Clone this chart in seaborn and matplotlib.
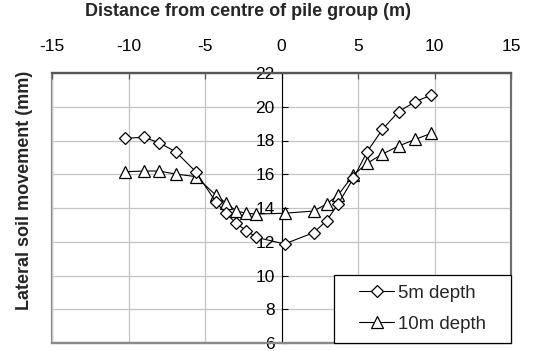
import matplotlib
matplotlib.use("Agg")
import matplotlib.pyplot as plt
from matplotlib.patches import Rectangle
import seaborn as sns
import pandas as pd

# Measured lateral soil movement along the section through the pile group
distance = [-10.25, -9.0, -8.0, -6.9, -5.6, -4.3, -3.65, -2.95, -2.3, -1.65,
            0.2, 2.1, 2.95, 3.7, 4.7, 5.6, 6.6, 7.65, 8.75, 9.8]
depth_5m = [18.13, 18.19, 17.87, 17.32, 16.15, 14.37, 13.69, 13.09, 12.65, 12.26,
            11.87, 12.54, 13.25, 14.24, 15.76, 17.34, 18.66, 19.71, 20.30, 20.70]
depth_10m = [16.15, 16.19, 16.19, 16.01, 15.86, 14.77, 14.31, 13.82, 13.69, 13.64,
             13.69, 13.82, 14.24, 14.77, 15.96, 16.65, 17.20, 17.67, 18.07, 18.43]
series_labels = ["5m depth", "10m depth"]
x_ticks = [-15, -10, -5, 0, 5, 10, 15]
y_ticks = [6, 8, 10, 12, 14, 16, 18, 20, 22]

sns.set_theme(style="white")
plt.rcParams["font.family"] = ["Liberation Sans", "DejaVu Sans"]

fig = plt.figure(figsize=(5.33, 3.51), dpi=100)
ax = fig.add_axes([52 / 533, 1 - 343 / 351, 459 / 533, 270 / 351])

df = pd.DataFrame({"distance": distance, "d5": depth_5m, "d10": depth_10m})

sns.lineplot(data=df, x="distance", y="d5", ax=ax, color="black", lw=0.8,
             marker="D", markersize=6.2, markerfacecolor="white",
             markeredgecolor="black", markeredgewidth=0.9, sort=False,
             zorder=4)
sns.lineplot(data=df, x="distance", y="d10", ax=ax, color="black", lw=0.8,
             marker="^", markersize=8.5, markerfacecolor="white",
             markeredgecolor="black", markeredgewidth=0.9, sort=False,
             zorder=3)

ax.set_xlim(-15, 15)
ax.set_ylim(6, 22)
ax.set_xticks(x_ticks)
ax.set_yticks(y_ticks)
ax.set_xticklabels([str(v) for v in x_ticks])
ax.set_yticklabels([str(v) for v in y_ticks])

ax.grid(True, color="#c4c4c4", lw=0.9)
ax.set_axisbelow(True)

# x axis along the top, y axis through the centre of the group
ax.xaxis.tick_top()
ax.xaxis.set_label_position("top")
ax.spines["left"].set_position(("data", 0))
ax.spines["left"].set_color("black")
ax.spines["left"].set_linewidth(0.8)
ax.spines["left"].set_zorder(2.5)
ax.spines["top"].set_color("#555555")
ax.spines["top"].set_linewidth(1.6)
ax.spines["bottom"].set_color("#8a8a8a")
ax.spines["bottom"].set_linewidth(1.6)
ax.spines["right"].set_color("#6a6a6a")
ax.spines["right"].set_linewidth(1.2)
ax.patch.set_edgecolor("#8a8a8a")
ax.patch.set_linewidth(1.6)

ax.tick_params(axis="x", which="both", top=True, bottom=False, direction="in",
               length=4, width=0.9, color="#555555", pad=14, labelsize=12.5,
               labelcolor="black")
ax.tick_params(axis="y", which="both", left=True, direction="in", length=4,
               width=0.8, color="black", pad=5, labelsize=12.5,
               labelcolor="black")

ax.set_xlabel("Distance from centre of pile group (m)", fontsize=13,
              fontweight="bold")
ax.xaxis.set_label_coords(0.427, 1.226)
ax.xaxis.label.set_verticalalignment("center")
ax.set_ylabel("Lateral soil movement (mm)", fontsize=13, fontweight="bold")
ax.yaxis.set_label_coords(-0.061, 0.567)
ax.yaxis.label.set_verticalalignment("center")

# Legend box in the lower-right corner of the plot area
box_x0, box_w, box_h = 0.614, 0.386, 0.252
ax.add_patch(Rectangle((box_x0, 0.0), box_w, box_h, transform=ax.transAxes,
                       facecolor="white", edgecolor="black", lw=0.9,
                       zorder=6, clip_on=False))
handles = ax.get_lines()[:2]
leg = ax.legend(handles, series_labels, loc="center",
                bbox_to_anchor=(box_x0, 0.0, box_w, box_h), fontsize=13.4,
                frameon=False, borderaxespad=0, handlelength=1.9,
                handletextpad=0.2, borderpad=0.3, labelspacing=0.75)
leg.set_zorder(7)

fig.savefig("out.png", dpi=100)
